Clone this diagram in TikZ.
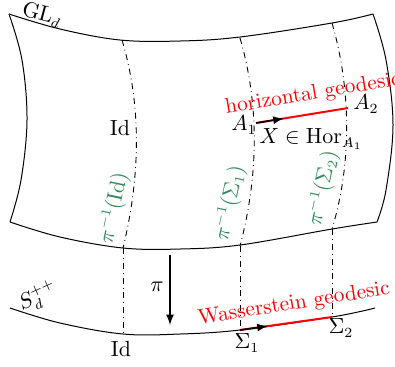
\documentclass[tikz,border=0pt]{standalone}
\usetikzlibrary{calc}
\definecolor{fibgreen}{RGB}{46,139,87}
\begin{document}
\begin{tikzpicture}[x=0.5pt,y=-0.5pt,
  font=\fontsize{10.7}{13}\selectfont,
  edge/.style={line width=0.5pt},
  fiber/.style={dash dot,line width=0.45pt},
  geo/.style={red,line width=1pt},
  tang/.style={-latex,line width=0.8pt},
  geolabel/.style={red,inner sep=0pt},
  fiblabel/.style={fibgreen,inner sep=0pt,rotate=78}]
\useasboundingbox (0,0) rectangle (395,366);
% surface GL_d
\draw[edge] plot[smooth,tension=0.6] coordinates {(9,14) (60,29) (120,40) (180,41) (240,37) (332,23) (373,14)};
\draw[edge] plot[smooth,tension=0.6] coordinates {(9,14) (22,60) (27,120) (21,180) (10,222)};
\draw[edge] plot[smooth,tension=0.6] coordinates {(373,14) (386,60) (393,125) (386,190) (377,222)};
\draw[edge] plot[smooth,tension=0.6] coordinates {(10,222) (60,237) (123,248) (180,249) (240,245) (332,229) (377,222)};
% fibers
\draw[fiber] (122,40) .. controls (140,100) and (142,170) .. (123,248);
\draw[fiber] (240,38) .. controls (258,100) and (260,170) .. (240,246);
\draw[fiber] (332,23) .. controls (350,85) and (353,160) .. (332,229);
% base manifold
\draw[edge] plot[smooth,tension=0.6] coordinates {(10,308) (60,323) (123,334) (180,334) (240,330) (332,317) (375,308)};
\coordinate (Ftop1) at (123,248); \coordinate (Fbot1) at (123,334);
\coordinate (Ftop2) at (240,246); \coordinate (S1) at (240,330);
\coordinate (Ftop3) at (332,229); \coordinate (S2) at (332,317);
\draw[fiber] (Ftop1) -- (Fbot1);
\draw[fiber] (Ftop2) -- (S1);
\draw[fiber] (Ftop3) -- (S2);
% horizontal geodesic
\coordinate (A1) at (256,123);
\coordinate (A2) at (348,108);
\draw[geo] (A1) -- (A2);
\coordinate (Xend) at ($(A1)!0.3!(A2)$);
\draw[tang] (A1) -- (Xend);
% Wasserstein geodesic
\draw[geo] (S1) -- (S2);
\coordinate (Wend) at ($(S1)!0.3!(S2)$);
\draw[tang] (S1) -- (Wend);
% projection arrow
\coordinate (Ptop) at (170,255);
\coordinate (Pbot) at (170,325);
\draw[tang] (Ptop) -- (Pbot);
% labels
\node[rotate=-15] (gl) at (42,15) {$\mathrm{GL}_d$};
\node[rotate=24] (sd) at (38,297) {$S_d^{++}$};
\node (id1) at (120,128) {$\mathrm{Id}$};
\node (id2) at (121,349) {$\mathrm{Id}$};
\node (a1l) at (244,125) {$A_1$};
\node (a2l) at (366,104) {$A_2$};
\node (xl) at (311,139) {$X\in\mathrm{Hor}_{A_1}$};
\node (pil) at (157,287) {$\pi$};
\node (s1l) at (247,343) {$\Sigma_1$};
\node (s2l) at (341,328) {$\Sigma_2$};
\node[geolabel,rotate=9.5] (hg) at (313,94) {horizontal geodesic};
\node[geolabel,rotate=9] (wg) at (294,304) {Wasserstein geodesic};
\node[fiblabel] (f1) at (114,208) {$\pi^{-1}(\mathrm{Id})$};
\node[fiblabel] (f2) at (230,203) {$\pi^{-1}(\Sigma_1)$};
\node[fiblabel] (f3) at (323,188) {$\pi^{-1}(\Sigma_2)$};
\end{tikzpicture}
\end{document}
